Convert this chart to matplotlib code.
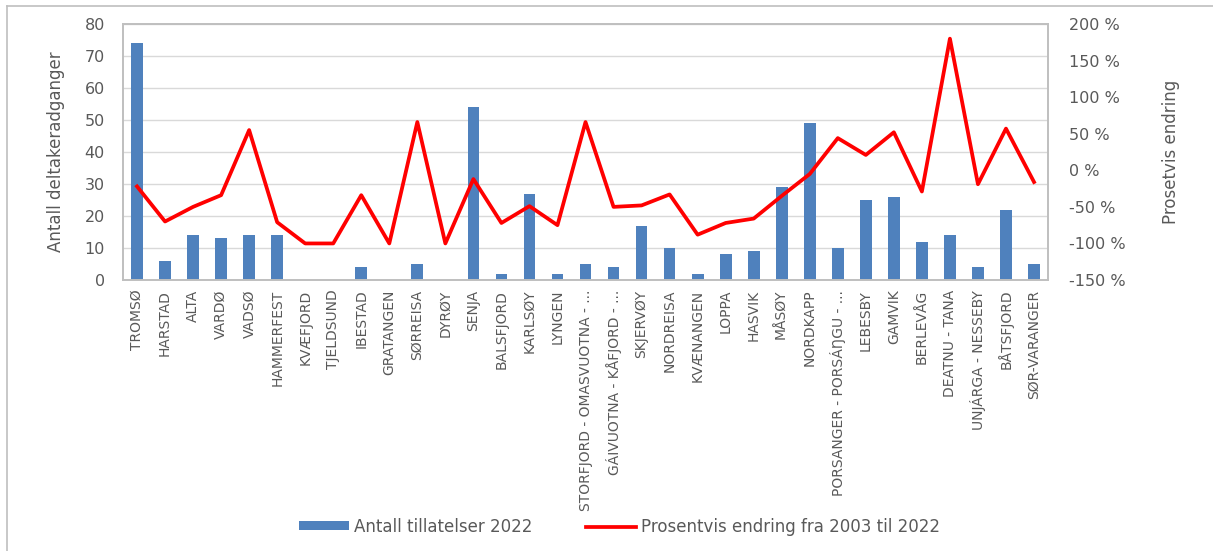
import numpy as np
import matplotlib.pyplot as plt
from matplotlib.lines import Line2D
from matplotlib.ticker import FuncFormatter

kommuner = ['TROMSØ', 'HARSTAD', 'ALTA', 'VARDØ', 'VADSØ', 'HAMMERFEST',
            'KVÆFJORD', 'TJELDSUND', 'IBESTAD', 'GRATANGEN', 'SØRREISA',
            'DYRØY', 'SENJA', 'BALSFJORD', 'KARLSØY', 'LYNGEN',
            'STORFJORD - OMASVUOTNA - ...', 'GÁIVUOTNA - KÅFJORD - ...',
            'SKJERVØY', 'NORDREISA', 'KVÆNANGEN', 'LOPPA', 'HASVIK', 'MÅSØY',
            'NORDKAPP', 'PORSANGER - PORSÁŊGU - ...', 'LEBESBY', 'GAMVIK',
            'BERLEVÅG', 'DEATNU - TANA', 'UNJÁRGA - NESSEBY', 'BÅTSFJORD',
            'SØR-VARANGER']
tillatelser_2022 = [74, 6, 14, 13, 14, 14, 0, 0, 4, 0, 5, 0, 54, 2, 27, 2,
                    5, 4, 17, 10, 2, 8, 9, 29, 49, 10, 25, 26, 12, 14, 4, 22, 5]
endring_pst = [-22, -70, -50, -34, 55, -71, -100, -100, -34, -100, 66, -100,
               -12, -72, -49, -75, 66, -50, -48, -33, -88, -72, -66, -35,
               -5, 44, 21, 52, -29, 180, -19, 57, -16]

grey = '#595959'
fig = plt.figure(figsize=(12.13, 5.51), dpi=100)
ax = fig.add_axes([0.1014, 0.4918, 0.7626, 0.4646])
ax2 = ax.twinx()

x = np.arange(len(kommuner))
ax.bar(x, tillatelser_2022, width=0.42, color='#4F81BD', zorder=2,
       label='Antall tillatelser 2022')
ax2.plot(x, endring_pst, color='#FF0000', lw=2.7, zorder=3,
         label='Prosentvis endring fra 2003 til 2022')

ax.set_xlim(-0.5, len(kommuner) - 0.5)
ax.set_ylim(0, 80)
ax.set_yticks(range(0, 81, 10))
ax2.set_ylim(-150, 200)
ax2.set_yticks(range(-150, 201, 50))
ax2.yaxis.set_major_formatter(FuncFormatter(lambda v, p: f'{int(v)} %'))

ax.grid(axis='y', color='#D9D9D9', lw=1, zorder=0)
ax.set_axisbelow(True)

ax.set_xticks(x)
ax.set_xticklabels(kommuner, rotation=90, fontsize=10, color=grey)
ax.tick_params(axis='x', length=0, pad=7)
ax.tick_params(axis='y', length=0, pad=13, labelsize=11.5, labelcolor=grey)
ax2.tick_params(axis='y', length=0, pad=15, labelsize=11.5, labelcolor=grey)

for a in (ax, ax2):
    for s in a.spines.values():
        s.set_color('#BFBFBF')
        s.set_linewidth(1.2)

ax.set_ylabel('Antall deltakeradganger', fontsize=12, color=grey, labelpad=14)
ax2.set_ylabel('Prosetvis endring', fontsize=12, color=grey, labelpad=26)

h1, l1 = ax.get_legend_handles_labels()
h2, l2 = ax2.get_legend_handles_labels()
fig.legend(h1 + h2, l1 + l2, loc='center', bbox_to_anchor=(0.511, 0.044),
           ncol=2, frameon=False, fontsize=12, labelcolor=grey,
           handlelength=3.0, handleheight=0.45, handletextpad=0.3,
           columnspacing=3.2)

# outer chart border (top and left visible)
fig.add_artist(Line2D([0.006, 1.0], [0.989, 0.989], color='#BFBFBF', lw=1.2))
fig.add_artist(Line2D([0.006, 0.006], [0.0, 0.989], color='#BFBFBF', lw=1.2))

fig.savefig('out.png', dpi=100)
